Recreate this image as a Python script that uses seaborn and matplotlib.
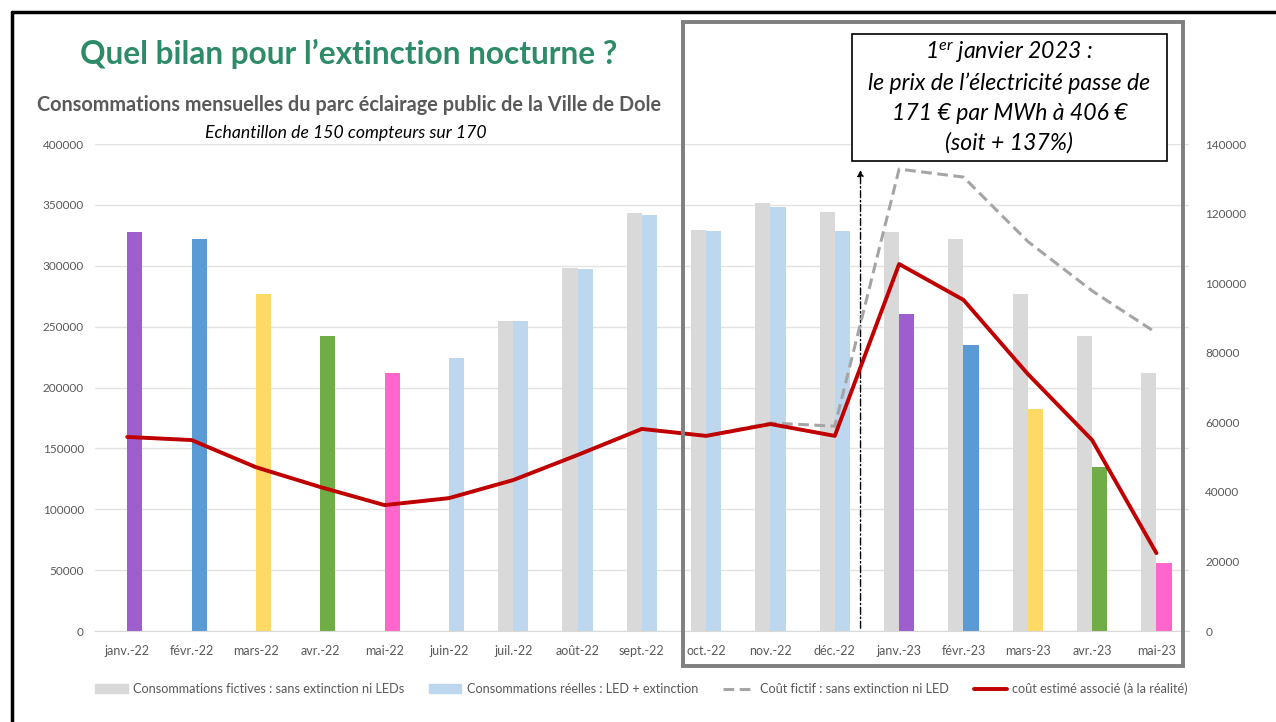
import numpy as np
import pandas as pd
import matplotlib
matplotlib.use('Agg')
import matplotlib.pyplot as plt
import matplotlib.patches as mpatches
from matplotlib.lines import Line2D
import seaborn as sns

# Data
mois = ['janv.-22', 'févr.-22', 'mars-22', 'avr.-22', 'mai-22', 'juin-22',
        'juil.-22', 'août-22', 'sept.-22', 'oct.-22', 'nov.-22', 'déc.-22',
        'janv.-23', 'févr.-23', 'mars-23', 'avr.-23', 'mai-23']
conso_fictive = [0, 0, 0, 0, 0, 0,
                 255000, 298000, 343000, 329500, 351500, 344000,
                 328000, 322000, 277000, 242500, 212000]
conso_reelle = [328000, 322000, 277000, 242500, 212000, 224000,
                255000, 297500, 342000, 328500, 348500, 328500,
                260500, 235000, 182500, 135000, 56000]
cout_fictif = [55800, 54900, 47100, 41400, 36200, 38200,
               43400, 50600, 58100, 56100, 59800, 58900,
               132800, 130500, 112000, 97800, 85700]
cout_estime = [55800, 54900, 47100, 41400, 36200, 38200,
               43400, 50600, 58100, 56100, 59500, 56100,
               105500, 95200, 73900, 54900, 22400]

# bar colours for the real consumption (months highlighted)
couleurs_reelles = ['#9E5ECE', '#5B9BD5', '#FFD966', '#70AD47', '#FF66CC'] + \
                   ['#BDD7EE'] * 7 + \
                   ['#9E5ECE', '#5B9BD5', '#FFD966', '#70AD47', '#FF66CC']

lbl_fict = 'Consommations fictives : sans extinction ni LEDs'
lbl_reel = 'Consommations réelles : LED + extinction'
lbl_cf = 'Coût fictif : sans extinction ni LED'
lbl_ce = 'coût estimé associé (à la réalité)'

n = len(mois)
df_bars = pd.DataFrame({
    'mois': mois * 2,
    'valeur': conso_fictive + conso_reelle,
    'serie': [lbl_fict] * n + [lbl_reel] * n,
})
df_lines = pd.DataFrame({
    'x': list(range(n)),
    'cout_fictif': cout_fictif,
    'cout_estime': cout_estime,
})

sns.set_style('white')
plt.rcParams['font.family'] = ['Lato', 'DejaVu Sans']
plt.rcParams['mathtext.fontset'] = 'custom'
plt.rcParams['mathtext.it'] = 'Lato:italic'
plt.rcParams['mathtext.rm'] = 'Lato:italic'

fig = plt.figure(figsize=(12.76, 7.22), dpi=100)
ax = fig.add_axes([0.0745, 0.126, 0.857, 0.6745])

sns.barplot(data=df_bars, x='mois', y='valeur', hue='serie',
            palette=['#D9D9D9', '#BDD7EE'], width=0.47, ax=ax,
            legend=False, saturation=1, order=mois)
for patch, col in zip(ax.containers[1], couleurs_reelles):
    patch.set_facecolor(col)
for c in ax.containers:
    for patch in c:
        patch.set_edgecolor('none')

ax.set_ylim(0, 400000)
ax.set_xlim(-0.5, n - 0.5)
ax.set_yticks(np.arange(0, 400001, 50000))
ax.grid(axis='y', color='#E3E3E3', linewidth=1)
ax.set_axisbelow(True)
ax.set_xlabel('')
ax.set_ylabel('')
for s in ['top', 'right', 'left']:
    ax.spines[s].set_visible(False)
ax.spines['bottom'].set_color('#D9D9D9')
ax.tick_params(axis='both', length=0, colors='#595959', labelsize=8.5)
ax.tick_params(axis='x', labelsize=9, pad=10)
ax.tick_params(axis='y', pad=8)

ax2 = ax.twinx()
sns.lineplot(data=df_lines, x='x', y='cout_fictif', ax=ax2, color='#A5A5A5',
             linewidth=2.2, dashes=False, linestyle=(0, (3.5, 1.8)))
sns.lineplot(data=df_lines, x='x', y='cout_estime', ax=ax2, color='#C00000',
             linewidth=2.8)
ax2.set_ylim(0, 140000)
ax2.set_yticks(np.arange(0, 140001, 20000))
ax2.set_ylabel('')
ax2.set_xlabel('')
for s in ax2.spines:
    ax2.spines[s].set_visible(False)
ax2.tick_params(axis='y', length=0, colors='#595959', labelsize=8.5, pad=12)
ax2.set_xlim(-0.5, n - 0.5)

# arrow marking 1 January 2023
ax.annotate('', xy=(11.4, 381000), xytext=(11.4, 0),
            arrowprops=dict(arrowstyle='-|>', color='black', lw=1,
                            linestyle=(0, (5, 2, 1, 2)), mutation_scale=9))

# titles
fig.text(0.063, 0.925, 'Quel bilan pour l’extinction nocturne ?', color='#2E8B67',
         fontsize=22.8, fontweight='bold', va='center')
fig.text(0.029, 0.855, 'Consommations mensuelles du parc éclairage public de la Ville de Dole',
         color='#595959', fontsize=14.3, fontweight='bold', va='center')
fig.text(0.271, 0.816, 'Echantillon de 150 compteurs sur 170', color='black',
         fontsize=12.7, style='italic', va='center', ha='center')

# frame around the slide
fig.add_artist(Line2D([0.0094, 1.0], [0.983, 0.983], transform=fig.transFigure,
                      color='black', lw=2.5))
fig.add_artist(Line2D([0.0094, 0.0094], [0.0, 0.983], transform=fig.transFigure,
                      color='black', lw=2.5))

# grey highlight rectangle
fig.add_artist(mpatches.Rectangle((0.535, 0.0776), 0.392, 0.892, transform=fig.transFigure,
                                  fill=False, edgecolor='#7F7F7F', lw=2.8))

# annotation box
fig.add_artist(mpatches.Rectangle((0.6677, 0.777), 0.2469, 0.176, transform=fig.transFigure,
                                  facecolor='white', edgecolor='black', lw=1.2, zorder=5))
box_lines = ['1$^{er}$ janvier 2023 :', 'le prix de l’électricité passe de',
             '171 € par MWh à 406 €', '(soit + 137%)']
for txt, yy in zip(box_lines, [0.928, 0.885, 0.843, 0.802]):
    fig.text(0.791, yy, txt, ha='center', va='center', fontsize=16.6,
             style='italic', color='black', zorder=6)

handles = [mpatches.Patch(color='#D9D9D9', label=lbl_fict),
           mpatches.Patch(color='#BDD7EE', label=lbl_reel),
           Line2D([], [], color='#A5A5A5', lw=2.2, linestyle=(0, (3.5, 1.8)), label=lbl_cf),
           Line2D([], [], color='#C00000', lw=2.8, label=lbl_ce)]
leg = fig.legend(handles=handles, loc='center', bbox_to_anchor=(0.5025, 0.046), ncol=4,
                 frameon=False, fontsize=9.1, handlelength=2.6, columnspacing=1.95,
                 handletextpad=0.4)
for t in leg.get_texts():
    t.set_color('#595959')

fig.savefig('out.png', dpi=100)
